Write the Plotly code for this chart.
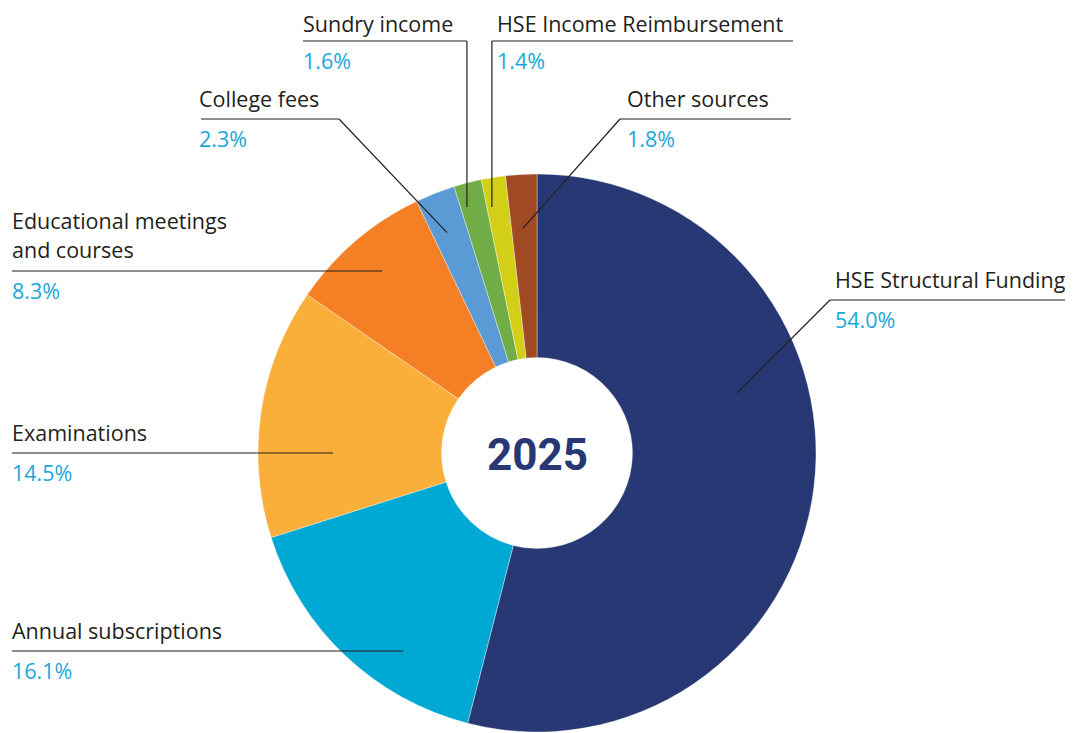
import math
import plotly.graph_objects as go

# ---- data ----
categories = ["HSE Structural Funding", "Annual subscriptions", "Examinations",
              "Educational meetings and courses", "College fees", "Sundry income",
              "HSE Income Reimbursement", "Other sources"]
shares = [54.0, 16.1, 14.5, 8.3, 2.3, 1.6, 1.4, 1.8]
pct_labels = ["54.0%", "16.1%", "14.5%", "8.3%", "2.3%", "1.6%", "1.4%", "1.8%"]
center_label = "2025"

colors = ["#283874", "#00A9D4", "#FAAF3A", "#F47F24", "#5B9BD5", "#71AD46", "#D3CF16", "#9F4A23"]

OFF = 8                     # page body margin
W, H = 1073 - OFF, 733 - OFF
CX, CY, R = 537, 453, 279   # pie centre / radius in page pixels

def px(x):
    return (x - OFF) / W

def py(y):
    return 1 - (y - OFF) / H

fig = go.Figure()
fig.add_trace(go.Pie(
    labels=categories, values=shares, sort=False, direction="clockwise", rotation=0,
    hole=0.342, textinfo="none", hoverinfo="label+percent",
    marker=dict(colors=colors, line=dict(color="rgba(255,255,255,0.6)", width=0.6)),
    domain=dict(x=[px(CX - R), px(CX + R)], y=[py(CY + R), py(CY - R)]),
    showlegend=False,
))

# ---- label layout (positions only) ----
layout_spec = [
    dict(lines=["HSE Structural Funding"], tx=834, ly=300, hx=(1071, 830), anchor=(73.3, 0.75)),
    dict(lines=["Annual subscriptions"], tx=11, ly=651, hx=(12, None), anchor=(214.0, 0.857)),
    dict(lines=["Examinations"], tx=11, ly=453, hx=(12, None), anchor=(270.0, 0.731)),
    dict(lines=["Educational meetings", "and courses"], tx=11, ly=271, hx=(12, None), anchor=(319.6, 0.857)),
    dict(lines=["College fees"], tx=198, ly=119, hx=(201, 339), anchor=(337.8, 0.853)),
    dict(lines=["Sundry income"], tx=302, ly=41, hx=(303, "v"), anchor=(344.1, 0.917)),
    dict(lines=["HSE Income Reimbursement"], tx=496, ly=41, hx=(793, "v"), anchor=(349.6, 0.896)),
    dict(lines=["Other sources"], tx=626, ly=119, hx=(791, 620), anchor=(356.4, 0.807)),
]

FONT = "Open Sans, Noto Sans, sans-serif"
FS = 21.5
LINE_COL = "#231F20"
PCT_COL = "#1AA7DA"

shapes = []
annotations = []
for spec, name, pct in zip(layout_spec, categories, pct_labels):
    ang, frac = spec["anchor"]
    ax = CX + R * frac * math.sin(math.radians(ang))
    ay = CY - R * frac * math.cos(math.radians(ang))
    x0, elbow = spec["hx"]
    ly = spec["ly"]
    if elbow is None:
        shapes.append(dict(type="line", xref="paper", yref="paper", x0=px(x0), y0=py(ly),
                           x1=px(ax), y1=py(ly), line=dict(color=LINE_COL, width=1.2)))
    else:
        ex = ax if elbow == "v" else elbow
        shapes.append(dict(type="line", xref="paper", yref="paper", x0=px(x0), y0=py(ly),
                           x1=px(ex), y1=py(ly), line=dict(color=LINE_COL, width=1.2)))
        shapes.append(dict(type="line", xref="paper", yref="paper", x0=px(ex), y0=py(ly),
                           x1=px(ax), y1=py(ay), line=dict(color=LINE_COL, width=1.2)))
    n = len(spec["lines"])
    for i, t in enumerate(spec["lines"]):
        yy = ly - 21 - (n - 1 - i) * 30
        yy = max(yy, OFF + 15.5)   # keep the text box inside the figure
        annotations.append(dict(text=t, x=px(spec["tx"]), y=py(yy), xref="paper", yref="paper",
                                xanchor="left", yanchor="middle", showarrow=False, borderpad=0,
                                font=dict(family=FONT, size=FS, color=LINE_COL)))
    annotations.append(dict(text=pct, x=px(spec["tx"]), y=py(ly + 19), xref="paper", yref="paper",
                            xanchor="left", yanchor="middle", showarrow=False, borderpad=0,
                            font=dict(family=FONT, size=FS, color=PCT_COL)))

annotations.append(dict(text="<b>%s</b>" % center_label, x=px(CX), y=py(455), xref="paper", yref="paper",
                        xanchor="center", yanchor="middle", showarrow=False,
                        font=dict(family="Roboto, sans-serif", size=44, color="#283874")))

fig.update_layout(
    width=W, height=H, margin=dict(l=0, r=0, t=0, b=0),
    paper_bgcolor="white", plot_bgcolor="white",
    shapes=shapes, annotations=annotations,
)

fig.write_html("out.html")
